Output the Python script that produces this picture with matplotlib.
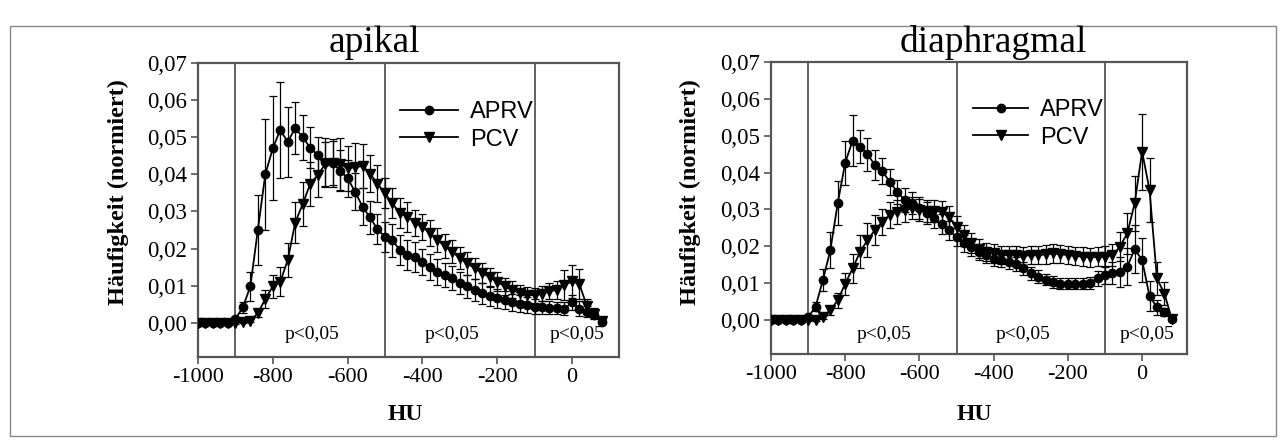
import matplotlib
matplotlib.use("Agg")
import matplotlib.pyplot as plt
from matplotlib.lines import Line2D
from matplotlib.patches import Rectangle

hu = [-1000, -980, -960, -940, -920, -900, -880, -860, -840, -820,
      -800, -780, -760, -740, -720, -700, -680, -660, -640, -620,
      -600, -580, -560, -540, -520, -500, -480, -460, -440, -420,
      -400, -380, -360, -340, -320, -300, -280, -260, -240, -220,
      -200, -180, -160, -140, -120, -100, -80, -60, -40, -20,
      0, 20, 40, 60, 80]

apikal_aprv = [0, 0, 0, 0, 0, 0.001, 0.0042, 0.0098, 0.025, 0.040,
               0.047, 0.052, 0.0487, 0.0525, 0.050, 0.0472, 0.0452, 0.0434, 0.0431, 0.041,
               0.039, 0.0353, 0.0313, 0.0284, 0.0252, 0.0232, 0.0222, 0.0196, 0.0183, 0.0178,
               0.0165, 0.0151, 0.0138, 0.0129, 0.012, 0.0107, 0.0098, 0.0089, 0.008, 0.0072,
               0.0066, 0.0061, 0.0056, 0.0052, 0.0048, 0.0044, 0.0042, 0.0041, 0.004, 0.0038,
               0.0055, 0.0038, 0.003, 0.0022, 0.0003]
apikal_aprv_err = [0.0003, 0.0003, 0.0003, 0.0003, 0.0003, 0.0005, 0.0015, 0.004, 0.0095, 0.015,
                   0.014, 0.013, 0.0095, 0.007, 0.006, 0.0055, 0.005, 0.0065, 0.006, 0.0055,
                   0.005, 0.005, 0.005, 0.0045, 0.004, 0.004, 0.0045, 0.004, 0.004, 0.004,
                   0.0035, 0.0035, 0.0035, 0.0033, 0.0032, 0.003, 0.003, 0.003, 0.0028, 0.0027,
                   0.0025, 0.0024, 0.0023, 0.0022, 0.0021, 0.002, 0.0018, 0.0017, 0.0015, 0.0018,
                   0.002, 0.002, 0.0015, 0.001, 0.0005]
apikal_pcv = [0, 0, 0, 0, 0, 0, 0.0003, 0.0006, 0.0026, 0.0064,
              0.0098, 0.0111, 0.0169, 0.027, 0.032, 0.0374, 0.0398, 0.0427, 0.0431, 0.0429,
              0.0416, 0.042, 0.0422, 0.0402, 0.0375, 0.0349, 0.0322, 0.0295, 0.0286, 0.027,
              0.0259, 0.0241, 0.0223, 0.0207, 0.0192, 0.0174, 0.016, 0.0147, 0.0134, 0.0123,
              0.0111, 0.0098, 0.0089, 0.008, 0.0076, 0.0074, 0.0078, 0.0085, 0.0089, 0.0102,
              0.0112, 0.0105, 0.0045, 0.0025, 0.0005]
apikal_pcv_err = [0.0003, 0.0003, 0.0003, 0.0003, 0.0003, 0.0003, 0.0003, 0.0005, 0.001, 0.0025,
                  0.003, 0.004, 0.0045, 0.0055, 0.006, 0.006, 0.006, 0.006, 0.0065, 0.007,
                  0.006, 0.0065, 0.006, 0.005, 0.005, 0.004, 0.004, 0.004, 0.004, 0.0035,
                  0.0035, 0.0035, 0.0033, 0.0032, 0.0031, 0.003, 0.003, 0.0028, 0.0027, 0.0026,
                  0.0025, 0.0024, 0.0023, 0.0022, 0.0021, 0.002, 0.002, 0.0022, 0.0025, 0.004,
                  0.0045, 0.004, 0.002, 0.0015, 0.0005]

dia_aprv = [0, 0, 0, 0, 0, 0.0008, 0.0036, 0.0109, 0.019, 0.0318,
            0.0427, 0.0487, 0.047, 0.045, 0.042, 0.0404, 0.0375, 0.0348, 0.0326, 0.0317,
            0.0305, 0.029, 0.0277, 0.026, 0.0243, 0.0225, 0.0208, 0.0197, 0.0185, 0.0176,
            0.0167, 0.0163, 0.0158, 0.0152, 0.014, 0.0127, 0.0118, 0.011, 0.0104, 0.0099,
            0.0098, 0.0098, 0.0099, 0.0101, 0.0113, 0.0122, 0.0127, 0.0131, 0.0145, 0.0192,
            0.0163, 0.0065, 0.0035, 0.0022, 0.0003]
dia_aprv_err = [0.0003, 0.0003, 0.0003, 0.0003, 0.0003, 0.0005, 0.0012, 0.003, 0.005, 0.006,
                0.006, 0.0068, 0.0045, 0.0045, 0.004, 0.0035, 0.0035, 0.0033, 0.0032, 0.003,
                0.003, 0.003, 0.0028, 0.0027, 0.0026, 0.0025, 0.0024, 0.0023, 0.0022, 0.0021,
                0.002, 0.002, 0.0019, 0.0019, 0.0018, 0.0018, 0.0017, 0.0016, 0.0016, 0.0015,
                0.0015, 0.0015, 0.0015, 0.0016, 0.002, 0.0025, 0.003, 0.004, 0.005, 0.0065,
                0.006, 0.004, 0.002, 0.0012, 0.0005]
dia_pcv = [0, 0, 0, 0, 0, 0, 0, 0.0009, 0.0027, 0.0054,
           0.0099, 0.014, 0.0185, 0.0217, 0.0244, 0.0267, 0.0285, 0.0294, 0.0298, 0.0303,
           0.0298, 0.0297, 0.0296, 0.0294, 0.028, 0.0253, 0.023, 0.0208, 0.0194, 0.0185,
           0.0181, 0.0176, 0.0176, 0.0176, 0.0174, 0.0176, 0.0176, 0.0178, 0.0181, 0.0179,
           0.0176, 0.0174, 0.0172, 0.017, 0.0172, 0.0172, 0.0176, 0.0199, 0.0235, 0.0317,
           0.0457, 0.0353, 0.0113, 0.0072, 0.0003]
dia_pcv_err = [0.0003, 0.0003, 0.0003, 0.0003, 0.0003, 0.0003, 0.0003, 0.0005, 0.0012, 0.002,
               0.003, 0.004, 0.0045, 0.0045, 0.004, 0.0035, 0.0035, 0.0033, 0.0032, 0.003,
               0.003, 0.003, 0.003, 0.003, 0.003, 0.003, 0.0028, 0.0027, 0.0026, 0.0025,
               0.0025, 0.0025, 0.0025, 0.0025, 0.0025, 0.0025, 0.0025, 0.0025, 0.0025, 0.0025,
               0.0025, 0.0025, 0.0025, 0.0025, 0.0026, 0.0028, 0.003, 0.004, 0.0055, 0.0075,
               0.0103, 0.0086, 0.0045, 0.003, 0.0005]

titles = ["apikal", "diaphragmal"]
series_labels = ["APRV", "PCV"]
region_bounds = [-900, -500, -100]
region_label = "p<0,05"
region_label_x = [-695, -320, 13]
yticks = [0, 0.01, 0.02, 0.03, 0.04, 0.05, 0.06, 0.07]
ytick_labels = ["0,00", "0,01", "0,02", "0,03", "0,04", "0,05", "0,06", "0,07"]
xticks = [-1000, -800, -600, -400, -200, 0]
xtick_labels = ["-1000", "-800", "-600", "-400", "-200", "0"]

W, H = 1283, 442
fig = plt.figure(figsize=(W / 100, H / 100), dpi=100)
fig.patch.set_facecolor("white")

serif = ["Liberation Serif", "DejaVu Serif"]
sans = ["Liberation Sans", "DejaVu Sans"]
spine_col = "#555555"

# figure border
fig.add_artist(Rectangle((10 / W, 1 - 436 / H), (1276 - 10) / W, (436 - 26) / H,
                         transform=fig.transFigure, fill=False, edgecolor="#888888", lw=1.0))

panels = [
    dict(rect=[198 / W, 1 - 357 / H, 421 / W, 294 / H], xmax=126,
         aprv=apikal_aprv, aprv_err=apikal_aprv_err, pcv=apikal_pcv, pcv_err=apikal_pcv_err,
         title_x=374, ylab_x=118, hu_x=405, leg=(0.48, 0.786), leg_len=2.45, text_y=-0.0032),
    dict(rect=[771 / W, 1 - 354 / H, 416 / W, 292 / H], xmax=121,
         aprv=dia_aprv, aprv_err=dia_aprv_err, pcv=dia_pcv, pcv_err=dia_pcv_err,
         title_x=993, ylab_x=690, hu_x=974, leg=(0.486, 0.788), leg_len=2.33, text_y=-0.0040),
]

for p, title in zip(panels, titles):
    ax = fig.add_axes(p["rect"])
    ax.set_xlim(-1000, p["xmax"])
    ax.set_ylim(-0.0092, 0.07)
    for s in ax.spines.values():
        s.set_color(spine_col)
        s.set_linewidth(1.6)
    for b in region_bounds:
        ax.axvline(b, color=spine_col, lw=1.3, zorder=1)

    ekw = dict(color="black", lw=1.3, elinewidth=0.9, capsize=3, capthick=0.9,
               markeredgecolor="black", markerfacecolor="black", zorder=3)
    ax.errorbar(hu, p["pcv"], yerr=p["pcv_err"], fmt="-v", ms=6.5, **ekw)
    ax.errorbar(hu, p["aprv"], yerr=p["aprv_err"], fmt="-o", ms=6, **ekw)

    ax.set_yticks(yticks)
    ax.set_yticklabels(ytick_labels, family=serif, fontsize=16.5)
    ax.set_xticks(xticks)
    ax.set_xticklabels(xtick_labels, family=serif, fontsize=16)
    ax.tick_params(axis="both", direction="out", length=5, width=1.2, color=spine_col, pad=3)
    ax.tick_params(top=False, right=False)

    for xl in region_label_x:
        ax.text(xl, p["text_y"], region_label, family=serif, fontsize=14,
                ha="center", va="center")

    handles = [Line2D([], [], color="black", lw=1.3, marker="o", ms=6),
               Line2D([], [], color="black", lw=1.3, marker="v", ms=6.5)]
    ax.legend(handles, series_labels, loc="center left", bbox_to_anchor=p["leg"],
              frameon=False, prop=dict(family=sans, size=17), handlelength=p["leg_len"],
              handletextpad=0.5, labelspacing=0.22, borderpad=0, borderaxespad=0,
              numpoints=1)

    fig.text(p["title_x"] / W, 1 - 52 / H, title, family=serif, fontsize=27,
             ha="center", va="baseline")
    fig.text(p["ylab_x"] / W, 1 - 192 / H, "Häufigkeit (normiert)", family=serif,
             fontweight="bold", fontsize=17.5, rotation=90, ha="center", va="center")
    fig.text(p["hu_x"] / W, 1 - 415 / H, "HU", family=serif, fontweight="bold",
             fontsize=17, ha="center", va="center")

fig.savefig("out.png", dpi=100, facecolor="white")
